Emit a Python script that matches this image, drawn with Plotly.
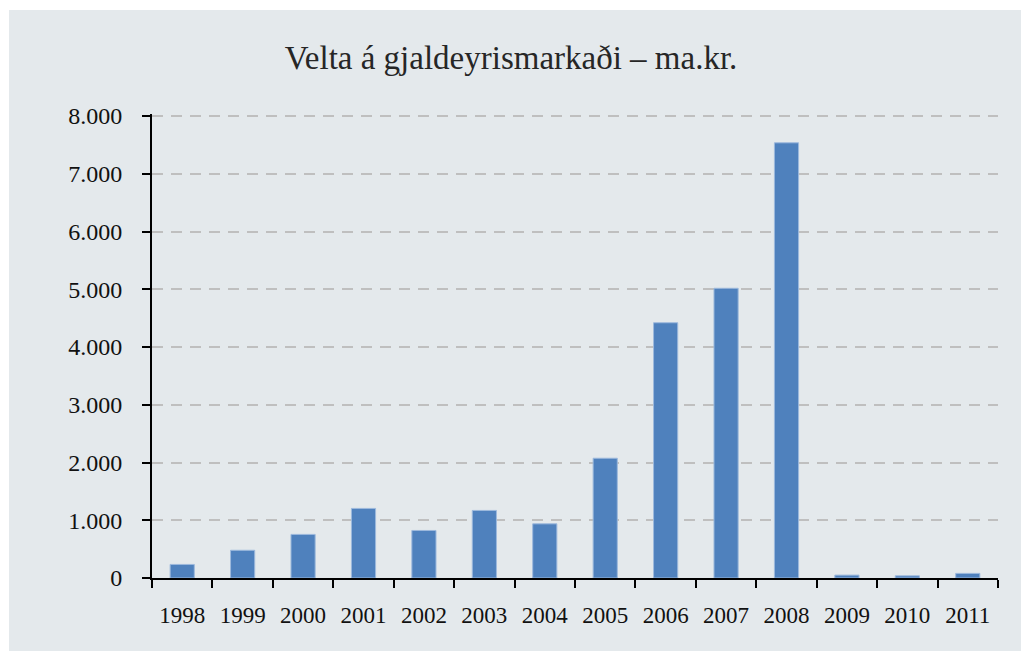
import plotly.graph_objects as go

years = ["1998", "1999", "2000", "2001", "2002", "2003", "2004",
         "2005", "2006", "2007", "2008", "2009", "2010", "2011"]
turnover = [235, 480, 755, 1205, 823, 1170, 938,
            2074, 4420, 5017, 7536, 50, 38, 80]
y_ticks = [0, 1000, 2000, 3000, 4000, 5000, 6000, 7000, 8000]
title_text = "Velta á gjaldeyrismarkaði – ma.kr."

# page body has an 8px margin, so the figure starts at (8, 8)
OFF = 8
W, H = 1029 - OFF, 653 - OFF
L, R, T, B = 152 - OFF, 31, 114 - OFF, 75
pw, ph = W - L - R, H - T - B
# keep the 8.000 gridline 2px below the plot top so it is drawn
y_max = 8000 * ph / (ph - 2)

BG = "#E4E9EC"
FONT = "Liberation Serif"

fig = go.Figure()
fig.add_trace(go.Bar(
    x=years, y=turnover,
    marker=dict(color="#4F81BD", line=dict(color="#9DB9DD", width=1)),
    hoverinfo="x+y",
))

# grey panel with white frame
fig.add_shape(type="rect", xref="paper", yref="paper", layer="below",
              x0=(9 - OFF - L) / pw, x1=(1028 - OFF - L) / pw,
              y0=(H - B - (651 - OFF)) / ph, y1=(H - B - (10 - OFF)) / ph,
              fillcolor=BG, line=dict(width=0))

fig.update_layout(
    width=W, height=H,
    margin=dict(l=L, r=R, t=T, b=B, pad=0),
    paper_bgcolor="white", plot_bgcolor=BG,
    separators=",.",
    bargap=0.6,
    showlegend=False,
    font=dict(family=FONT, size=23, color="#111111"),
    title=dict(text=title_text, xref="container", yref="container",
               x=(511 - OFF) / W, xanchor="center",
               y=1 - (57 - OFF) / H, yanchor="middle",
               font=dict(family=FONT, size=33, color="#262626")),
    xaxis=dict(
        type="category", showline=True, linecolor="black", linewidth=2,
        ticks="outside", ticklen=8, tickwidth=2, tickcolor="black",
        tickson="boundaries", showgrid=False, ticklabelstandoff=15,
        tickfont=dict(family=FONT, size=23, color="#111111"),
    ),
    yaxis=dict(
        range=[0, y_max], tickvals=y_ticks, tickformat=",d",
        showline=True, linecolor="black", linewidth=2,
        ticks="outside", ticklen=8, tickwidth=2, tickcolor="black",
        showgrid=True, gridcolor="#BFBFBF", gridwidth=2, griddash="11px,8px",
        zeroline=False, ticklabelstandoff=15,
        tickfont=dict(family=FONT, size=24, color="#111111"),
    ),
)

fig.write_html("out.html")
